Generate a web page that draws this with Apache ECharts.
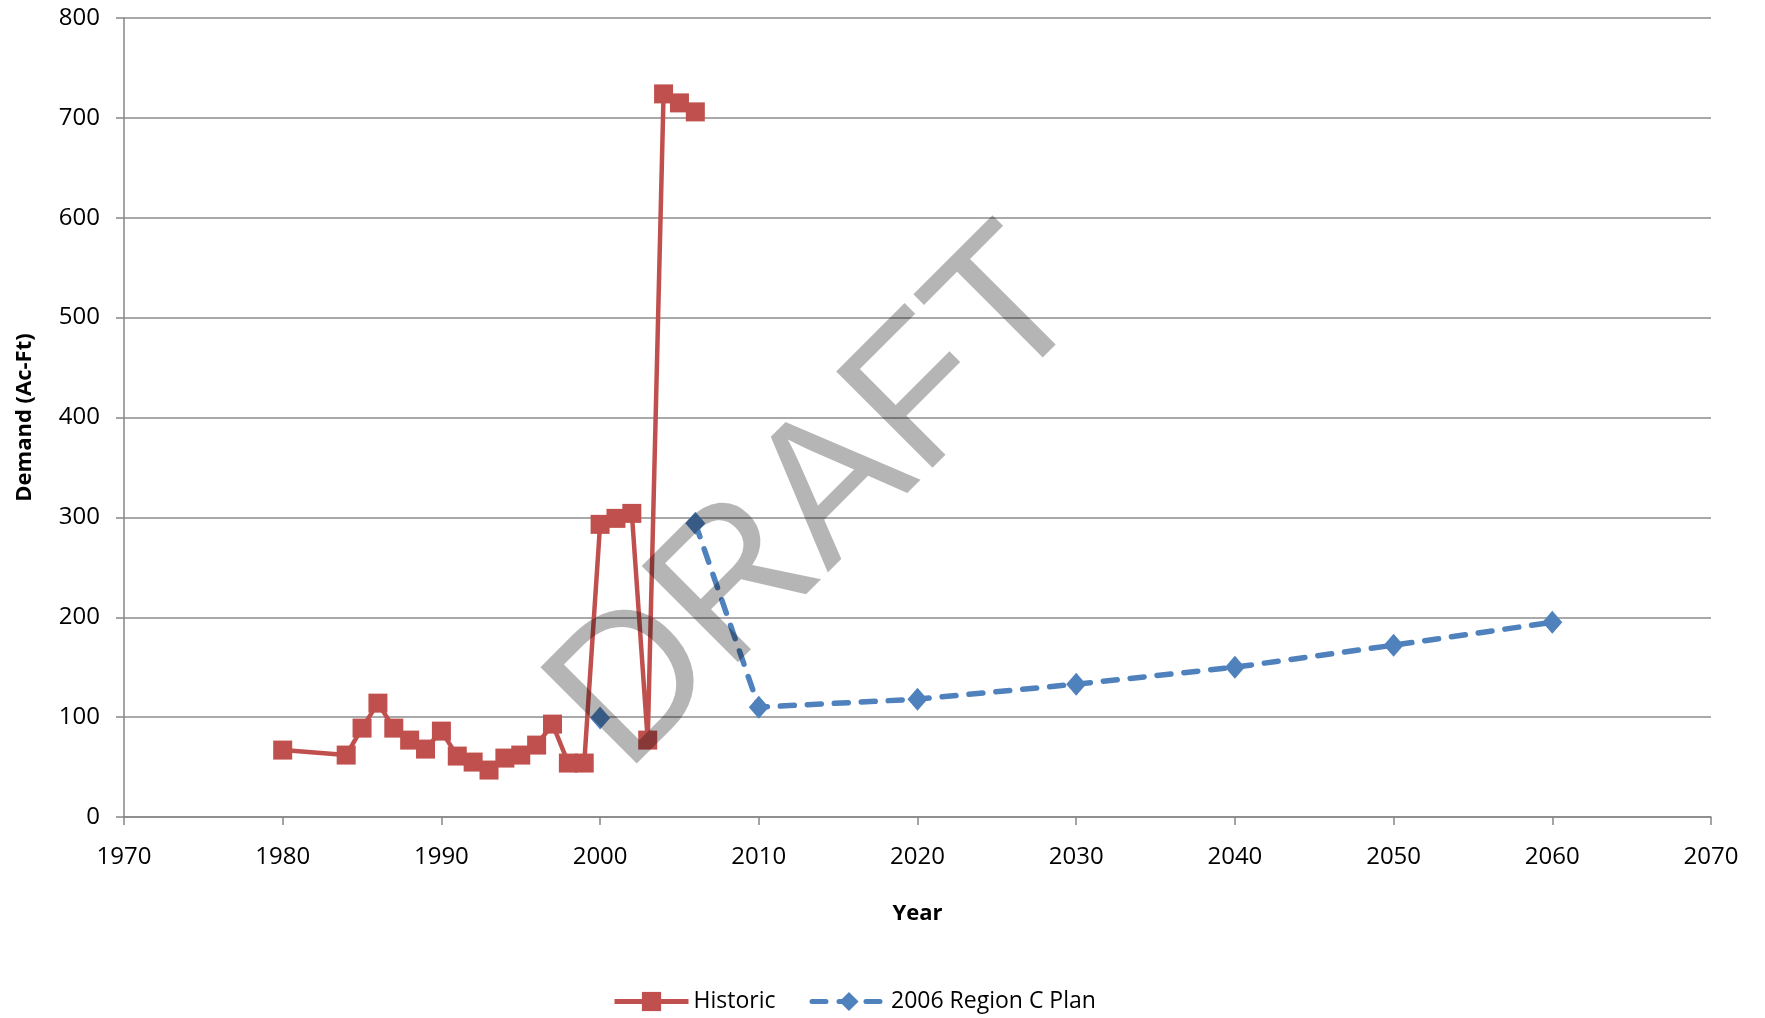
<!DOCTYPE html>
<html>
<head>
<meta charset="utf-8">
<title>Demand</title>
<script src="https://cdn.jsdelivr.net/npm/echarts@6/dist/echarts.min.js"></script>
<style>
  html, body { margin: 0; padding: 0; background: #fff; }
  #chart { width: 1765px; height: 1018px; }
</style>
</head>
<body>
<div id="chart"></div>
<script>
// historic demand (Ac-Ft)
const historicYears = [1980, 1984, 1985, 1986, 1987, 1988, 1989, 1990, 1991, 1992, 1993, 1994, 1995, 1996, 1997, 1998, 1999, 2000, 2001, 2002, 2003, 2004, 2005, 2006]
const historicValues = [67, 62, 89, 114, 89, 77, 68, 86, 61, 55, 47, 59, 62, 72, 93, 54, 54, 293, 299, 304, 77, 724, 715, 706]

// 2006 Region C Plan projections (blank years leave a gap)
const planYears = [2000, 2001, 2002, 2003, 2004, 2005, 2006, 2010, 2020, 2030, 2040, 2050, 2060]
const planValues = [99, null, null, null, null, null, 294, 110, 118, 133, 150, 172, 195]

const xTicks = [1970, 2070, 10]
const yTicks = [0, 800, 100]

const seriesNames = ['Historic', '2006 Region C Plan']

const pairs = (xs, ys) => xs.map((x, i) => [x, ys[i] === null ? '-' : ys[i]])

const chart = echarts.init(document.getElementById('chart'))

const labelFont = { color: '#000', fontSize: 24, fontFamily: 'Open Sans' }

chart.setOption({
  animation: false,
  grid: {
    left: 124,
    right: 54,
    top: 18,
    bottom: 201,
  },
  legend: {
    left: 607,
    top: 985,
    itemWidth: 74,
    itemHeight: 24,
    itemGap: 34,
    lineStyle: { width: 5 },
    textStyle: { color: '#000', fontSize: 23, fontFamily: 'Open Sans' },
    data: seriesNames,
  },
  xAxis: {
    type: 'value',
    min: xTicks[0],
    max: xTicks[1],
    interval: xTicks[2],
    name: 'Year',
    nameLocation: 'middle',
    nameGap: 86,
    nameTextStyle: { color: '#000', fontSize: 22, fontWeight: 'bold', fontFamily: 'Open Sans' },
    axisLine: { lineStyle: { color: '#868686', width: 1.5 } },
    axisTick: { show: true, length: 8, lineStyle: { color: '#868686', width: 1.5 } },
    axisLabel: { ...labelFont, margin: 28, formatter: (v) => String(v) },
    splitLine: { show: false },
  },
  yAxis: {
    type: 'value',
    min: yTicks[0],
    max: yTicks[1],
    interval: yTicks[2],
    name: 'Demand (Ac-Ft)',
    nameLocation: 'middle',
    nameGap: 88,
    nameTextStyle: { color: '#000', fontSize: 22, fontWeight: 'bold', fontFamily: 'Open Sans' },
    axisLine: { show: true, lineStyle: { color: '#868686', width: 1.5 } },
    axisTick: { show: true, length: 8, lineStyle: { color: '#868686', width: 1.5 } },
    axisLabel: { ...labelFont, margin: 24 },
    splitLine: { lineStyle: { color: '#8c8c8c', width: 1.5 } },
  },
  series: [
    {
      name: seriesNames[0],
      type: 'line',
      data: pairs(historicYears, historicValues),
      symbol: 'rect',
      symbolSize: 19,
      lineStyle: { color: '#C0504D', width: 4.5 },
      itemStyle: { color: '#C0504D' },
    },
    {
      name: seriesNames[1],
      type: 'line',
      data: pairs(planYears, planValues),
      connectNulls: false,
      symbol: 'diamond',
      symbolSize: [20, 23],
      lineStyle: { color: '#4F81BD', width: 5.5, type: [14, 13], cap: 'round' },
      itemStyle: { color: '#4F81BD' },
    },
  ],
  graphic: [
    {
      type: 'text',
      x: 820,
      y: 503,
      rotation: Math.PI / 4,
      z: 100,
      silent: true,
      style: {
        text: 'DRAFT',
        font: '198px "Liberation Sans"',
        fill: 'rgba(0,0,0,0.29)',
        align: 'center',
        verticalAlign: 'middle',
      },
    },
  ],
})
</script>
</body>
</html>
